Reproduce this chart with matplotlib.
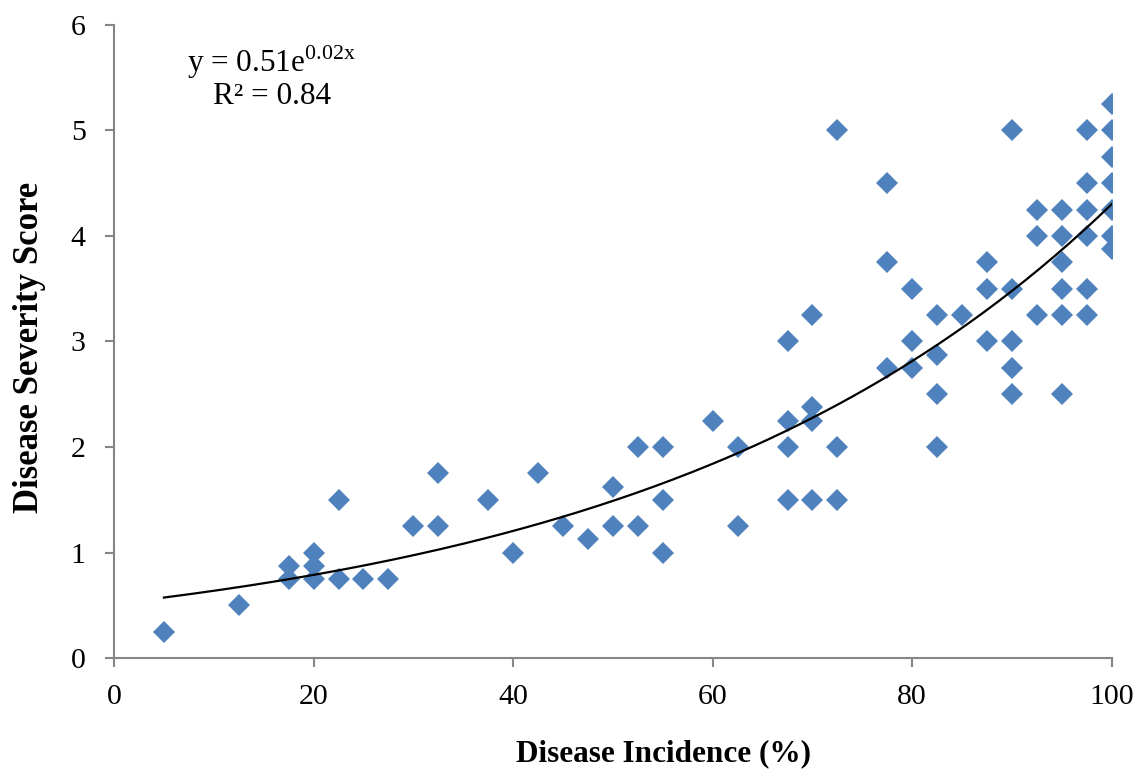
import matplotlib
matplotlib.use('Agg')
import matplotlib.pyplot as plt
import numpy as np

plt.rcParams['font.family'] = ['Liberation Serif', 'DejaVu Serif']
plt.rcParams['mathtext.fontset'] = 'custom'
plt.rcParams['mathtext.rm'] = 'Liberation Serif'

# disease incidence (%) and severity score
incidence = [5, 12.5, 17.5, 17.5, 20, 20, 20, 22.5, 22.5, 25, 27.5, 30,
             32.5, 32.5, 37.5, 40, 42.5, 45, 47.5, 50, 50, 52.5, 52.5,
             55, 55, 55, 60, 62.5, 62.5, 67.5, 67.5, 67.5, 67.5,
             70, 70, 70, 70, 72.5, 72.5, 72.5, 77.5, 77.5, 77.5,
             80, 80, 80, 82.5, 82.5, 82.5, 82.5, 85, 87.5, 87.5, 87.5,
             90, 90, 90, 90, 90, 92.5, 92.5, 92.5,
             95, 95, 95, 95, 95, 95, 97.5, 97.5, 97.5, 97.5, 97.5, 97.5,
             100, 100, 100, 100, 100, 100, 100]
severity = [0.25, 0.5, 0.875, 0.75, 1.0, 0.875, 0.75, 1.5, 0.75, 0.75, 0.75, 1.25,
            1.75, 1.25, 1.5, 1.0, 1.75, 1.25, 1.125, 1.625, 1.25, 2.0, 1.25,
            2.0, 1.5, 1.0, 2.25, 2.0, 1.25, 3.0, 2.25, 2.0, 1.5,
            3.25, 2.375, 2.25, 1.5, 5.0, 2.0, 1.5, 4.5, 3.75, 2.75,
            3.5, 3.0, 2.75, 3.25, 2.875, 2.5, 2.0, 3.25, 3.75, 3.5, 3.0,
            5.0, 3.5, 3.0, 2.75, 2.5, 4.25, 4.0, 3.25,
            4.25, 4.0, 3.75, 3.5, 3.25, 2.5, 5.0, 4.5, 4.25, 4.0, 3.5, 3.25,
            5.25, 5.0, 4.75, 4.5, 4.25, 4.0, 3.875]

x = np.array(incidence)
y = np.array(severity)

# exponential trend line fitted on log(y)
b, log_a = np.polyfit(x, np.log(y), 1)
xt = np.linspace(x.min(), x.max(), 200)
yt = np.exp(log_a) * np.exp(b * xt)

fig = plt.figure(figsize=(11.45, 7.76), dpi=100)
ax = fig.add_axes([0.0996, 0.152, 0.8714, 0.816])

ax.plot(x, y, 'D', color='#4F81BD', markersize=11, markeredgewidth=0, zorder=3)
ax.plot(xt, yt, color='black', lw=1.6, zorder=4)

ax.set_xlim(0, 100)
ax.set_ylim(0, 6)
ax.set_xticks(np.arange(0, 101, 20))
ax.set_yticks(np.arange(0, 7, 1))

for side in ['top', 'right']:
    ax.spines[side].set_visible(False)
for side in ['left', 'bottom']:
    ax.spines[side].set_color('#868686')
    ax.spines[side].set_linewidth(1.5)
ax.tick_params(direction='out', length=6.5, width=1.5, color='#868686',
               labelsize=21.5)
ax.tick_params(axis='x', pad=12)
ax.tick_params(axis='y', pad=14)

ax.set_xlabel('Disease Incidence (%)', fontsize=22.5, fontweight='bold')
ax.xaxis.set_label_coords(0.551, -0.128)
ax.set_ylabel('Disease Severity Score', fontsize=25, fontweight='bold')
ax.yaxis.set_label_coords(-0.068, 0.49)

ax.text(15.8, 5.65, r'y = 0.51e$^{\mathrm{0.02x}}$', fontsize=22.5, ha='center', va='center')
ax.text(15.8, 5.32, 'R² = 0.84', fontsize=22.5, ha='center', va='center')

fig.savefig('out.png', dpi=100)
